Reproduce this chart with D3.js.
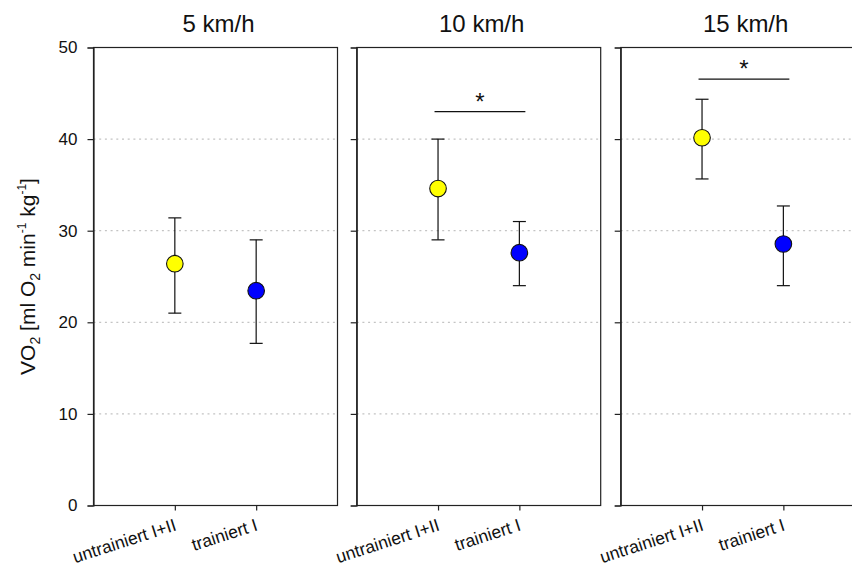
<!DOCTYPE html>
<html><head><meta charset="utf-8">
<script src="https://cdn.jsdelivr.net/npm/d3@7"></script>
<style>body{margin:0;background:#fff}svg{display:block;font-family:"Liberation Sans",Arial,sans-serif}</style>
</head><body><svg id="c" width="852" height="570"></svg>
<script>
const panels = ["5 km/h", "10 km/h", "15 km/h"];
const categories = ["untrainiert I+II", "trainiert I"];
const colors = ["#ffff00", "#0000ff"];
const means = [[26.4, 23.45], [34.6, 27.6], [40.15, 28.55]];
const upper = [[31.4, 29.0], [40.0, 31.0], [44.35, 32.7]];
const lower = [[21.0, 17.7], [29.0, 24.0], [35.65, 24.0]];
const sigLevel = [null, 43.0, 46.55];
const yTicks = [0, 10, 20, 30, 40, 50];
const gridTicks = [10, 20, 30, 40];

const svg = d3.select("#c");
const yTop = 47.5, yBottom = 505.5, pw = 244;
const lefts = [93.5, 356.7, 620.7];
const y = d3.scaleLinear().domain([0, 50]).range([yBottom, yTop]);
const FONT = "Liberation Sans, Arial, sans-serif";

panels.forEach((p, i) => {
  const g = svg.append("g").attr("transform", `translate(${lefts[i]},0)`);
  const x = d3.scalePoint().domain(["", ...categories, " "]).range([0, pw]);
  // grid
  g.selectAll("line.grid").data(gridTicks).join("line")
    .attr("x1", 0).attr("x2", pw).attr("y1", d => y(d)).attr("y2", d => y(d))
    .attr("stroke", "#c4c4c4").attr("stroke-width", 1.3).attr("stroke-dasharray", "2,3.7");
  // frame
  g.append("rect").attr("x", 0).attr("y", yTop).attr("width", pw).attr("height", yBottom - yTop)
    .attr("fill", "none").attr("stroke", "#222").attr("stroke-width", 1.2);
  // y axis
  const ya = g.append("g").call(d3.axisLeft(y).tickValues(yTicks).tickSize(6).tickPadding(10)
    .tickFormat(i === 0 ? d3.format("d") : () => ""));
  ya.select(".domain").attr("stroke", "#222").attr("stroke-width", 1.2);
  ya.selectAll(".tick line").attr("stroke", "#222").attr("stroke-width", 1.2);
  ya.selectAll(".tick text").attr("font-size", 17).attr("fill", "#111").style("font-family", FONT);
  // x axis
  const xa = g.append("g").attr("transform", `translate(0,${yBottom})`)
    .call(d3.axisBottom(x).tickValues(categories).tickSize(5).tickPadding(0));
  xa.select(".domain").remove();
  xa.selectAll(".tick line").attr("stroke", "#222").attr("stroke-width", 1.2);
  xa.selectAll(".tick text").attr("font-size", 17.5).attr("fill", "#111")
    .style("font-family", FONT)
    .attr("text-anchor", "end").attr("x", 0).attr("y", 0).attr("dy", 0)
    .attr("transform", "translate(2,24.5) rotate(-18)");
  // title
  g.append("text").attr("x", pw / 2 + 3).attr("y", 32).attr("text-anchor", "middle")
    .attr("font-size", 24).attr("fill", "#111").text(p);
  // error bars
  categories.forEach((c, j) => {
    const cx = x(c);
    g.append("line").attr("x1", cx).attr("x2", cx).attr("y1", y(upper[i][j])).attr("y2", y(lower[i][j]))
      .attr("stroke", "#111").attr("stroke-width", 1.2);
    [upper[i][j], lower[i][j]].forEach(v => {
      g.append("line").attr("x1", cx - 6.5).attr("x2", cx + 6.5).attr("y1", y(v)).attr("y2", y(v))
        .attr("stroke", "#111").attr("stroke-width", 1.2);
    });
    g.append("circle").attr("cx", cx).attr("cy", y(means[i][j])).attr("r", 8.3)
      .attr("fill", colors[j]).attr("stroke", "#111").attr("stroke-width", 1.1);
  });
  // significance
  if (sigLevel[i] !== null) {
    const x1 = x(categories[0]) - 3.5, x2 = x(categories[1]) + 6;
    g.append("line").attr("x1", x1).attr("x2", x2).attr("y1", y(sigLevel[i])).attr("y2", y(sigLevel[i]))
      .attr("stroke", "#111").attr("stroke-width", 1.1);
    g.append("text").attr("x", (x1 + x2) / 2).attr("y", y(sigLevel[i]) - 2).attr("text-anchor", "middle")
      .attr("font-size", 24).attr("fill", "#111").text("*");
  }
});

// y label
const yl = svg.append("text").attr("transform", `translate(35,${(yTop + yBottom) / 2}) rotate(-90)`)
  .attr("text-anchor", "middle").attr("font-size", 21).attr("fill", "#111");
yl.append("tspan").text("VO");
yl.append("tspan").attr("font-size", 14).attr("dy", 5).text("2");
yl.append("tspan").attr("dy", -5).text(" [ml O");
yl.append("tspan").attr("font-size", 14).attr("dy", 5).text("2");
yl.append("tspan").attr("dy", -5).text(" min");
yl.append("tspan").attr("font-size", 12).attr("dy", -9).text("-1");
yl.append("tspan").attr("dy", 9).text(" kg");
yl.append("tspan").attr("font-size", 12).attr("dy", -9).text("-1");
yl.append("tspan").attr("dy", 9).text("]");
</script></body></html>
